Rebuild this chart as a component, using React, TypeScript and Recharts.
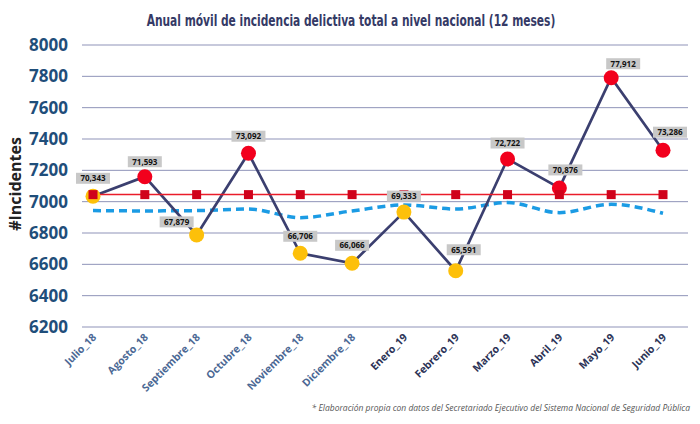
import { LineChart, Line, XAxis, YAxis, CartesianGrid } from 'recharts'

const meses = [
  'Julio_18', 'Agosto_18', 'Septiembre_18', 'Octubre_18', 'Noviembre_18', 'Diciembre_18',
  'Enero_19', 'Febrero_19', 'Marzo_19', 'Abril_19', 'Mayo_19', 'Junio_19',
]

// anual móvil (12 meses) tal como aparece en las etiquetas
const anualMovil = [70343, 71593, 67879, 73092, 66706, 66066, 69333, 65591, 72722, 70876, 77912, 73286]

// línea punteada de referencia
const tendencia = [6943, 6941, 6943, 6953, 6898, 6941, 6979, 6953, 6994, 6930, 6983, 6926]

const yTicks = [6200, 6400, 6600, 6800, 7000, 7200, 7400, 7600, 7800, 8000]

const incidentes = anualMovil.map(v => v / 10)
const promedio = incidentes.reduce((a, b) => a + b, 0) / incidentes.length

const data = meses.map((mes, i) => ({
  mes,
  incidentes: incidentes[i],
  total: anualMovil[i],
  promedio,
  tendencia: tendencia[i],
}))

// small nudges so the tags don't sit on top of the line
const tagNudge: [number, number][] = [
  [0, -18], [0, -15], [-20, -13], [0, -17], [0, -17], [0, -18],
  [0, -16], [8, -21], [0, -16], [6, -18], [12, -14], [7, -18],
]

const FONT = '"Open Sans", "DejaVu Sans", sans-serif'

function PuntoDot(props: any) {
  const { cx, cy, payload, index } = props
  if (cx == null || cy == null) return null
  const fill = payload.incidentes >= promedio ? '#f2001d' : '#fdc00a'
  return <circle key={`p-${index}`} cx={cx} cy={cy} r={7.5} fill={fill} />
}

function SquareDot(props: any) {
  const { cx, cy, index } = props
  if (cx == null || cy == null) return null
  return <rect key={`s-${index}`} x={cx - 4.5} y={cy - 4.5} width={9} height={9} fill="#d0021b" />
}

function ValueTag(props: any) {
  const { x, y, index } = props
  if (x == null || y == null) return null
  const [dx, dy] = tagNudge[index] ?? [0, -17]
  const cx = x + dx
  const cy = y + dy
  const text = anualMovil[index].toLocaleString('en-US')
  return (
    <g key={`t-${index}`}>
      <rect x={cx - 17} y={cy - 5.5} width={34} height={11} fill="#c8c8c8" />
      <text x={cx} y={cy + 3} textAnchor="middle" fontSize={8} fontWeight={700} fill="#111" fontFamily={FONT}>
        {text}
      </text>
    </g>
  )
}

function MesTick(props: any) {
  const { x, y, payload } = props
  const is19 = String(payload.value).endsWith('_19')
  return (
    <g transform={`translate(${x + 4},${y + 11})`}>
      <text
        x={0}
        y={0}
        textAnchor="end"
        transform="rotate(-45)"
        fontSize={10.5}
        fontWeight={700}
        fill={is19 ? '#2c3356' : '#4b6894'}
        fontFamily={FONT}
      >
        {payload.value}
      </text>
    </g>
  )
}

export default function App() {
  return (
    <div style={{ position: 'absolute', left: 0, top: 0, width: 700, height: 424, background: '#fff' }}>
      <LineChart width={700} height={424} data={data} margin={{ top: 45, right: 12, bottom: 10, left: 0 }}>
        <CartesianGrid vertical={false} stroke="#8f93b8" strokeWidth={1} />
        <XAxis
          dataKey="mes"
          scale="point"
          padding={{ left: 11, right: 25 }}
          axisLine={false}
          tickLine={false}
          tickSize={0}
          tickMargin={0}
          height={87}
          interval={0}
          tick={<MesTick />}
        />
        <YAxis
          domain={[6200, 8000]}
          ticks={yTicks}
          width={82}
          axisLine={false}
          tickLine={false}
          tickMargin={14}
          tickSize={0}
          tick={{ fill: '#1f4e7a', fontSize: 17, fontWeight: 700, fontFamily: FONT }}
        />
        <Line
          type="monotone"
          dataKey="tendencia"
          stroke="#1b9be4"
          strokeWidth={3.5}
          strokeDasharray="8 5"
          dot={false}
          isAnimationActive={false}
        />
        <Line
          type="linear"
          dataKey="incidentes"
          stroke="#3b3f6f"
          strokeWidth={2.7}
          dot={<PuntoDot />}
          label={<ValueTag />}
          isAnimationActive={false}
        />
        <Line
          type="linear"
          dataKey="promedio"
          stroke="#ea1c2a"
          strokeWidth={1.5}
          dot={<SquareDot />}
          isAnimationActive={false}
        />
      </LineChart>
      <svg width={700} height={424} style={{ position: 'absolute', left: 0, top: 0, pointerEvents: 'none' }}>
        {/* narrow title: horizontally squeezed to mimic a condensed face */}
        <g transform="translate(351,26) scale(0.79,1)">
          <text
            x={0}
            y={0}
            textAnchor="middle"
            fontSize={15}
            fontWeight={700}
            fill="#353a66"
            fontFamily='"DejaVu Sans Condensed", "DejaVu Sans", sans-serif'
          >
            Anual móvil de incidencia delictiva total a nivel nacional (12 meses)
          </text>
        </g>
        <text
          x={21}
          y={184}
          transform="rotate(-90, 21, 184)"
          textAnchor="middle"
          fontSize={16}
          fontWeight={700}
          fill="#222"
          fontFamily={FONT}
        >
          #Incidentes
        </text>
        <text
          x={690}
          y={411}
          textAnchor="end"
          fontSize={8.5}
          fontStyle="italic"
          fill="#555"
          fontFamily={FONT}
        >
          * Elaboración propia con datos del Secretariado Ejecutivo del Sistema Nacional de Seguridad Pública
        </text>
      </svg>
    </div>
  )
}
